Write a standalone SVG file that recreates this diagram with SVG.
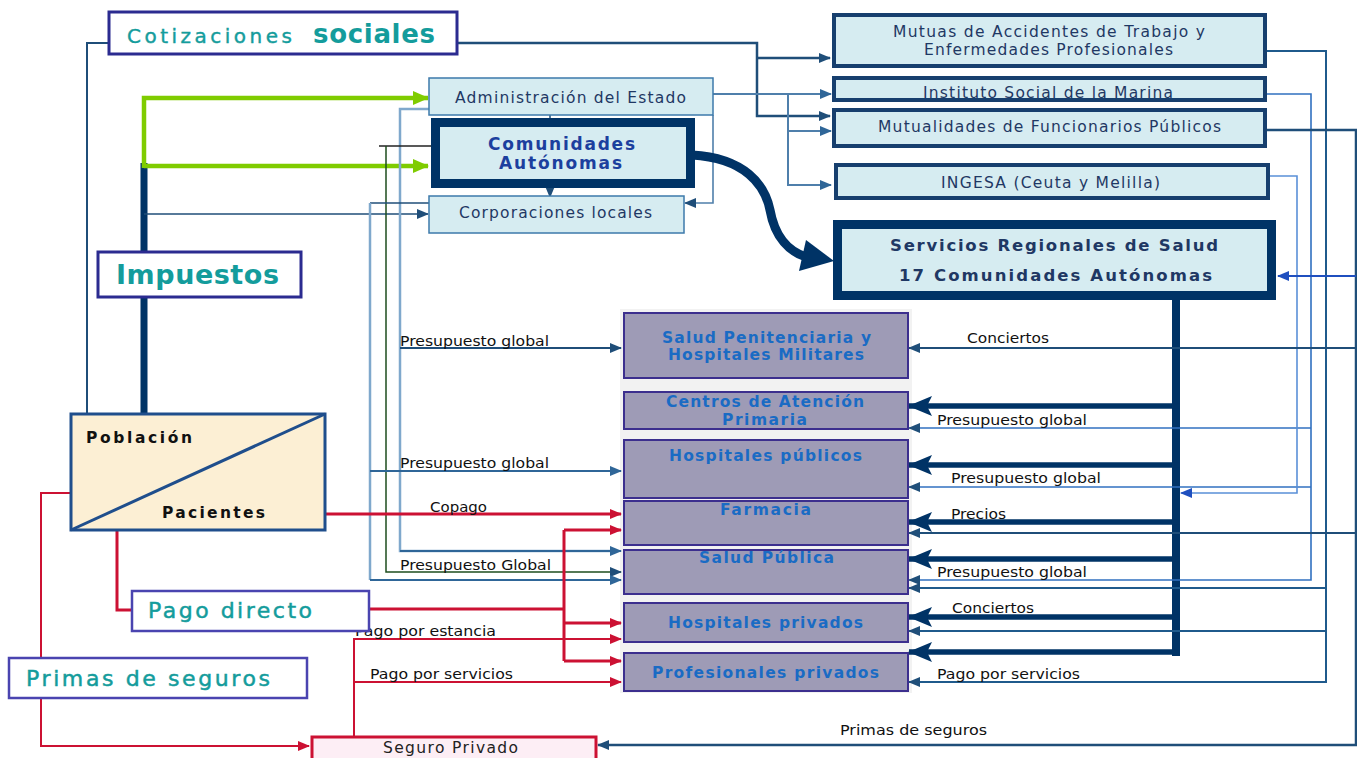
<svg xmlns="http://www.w3.org/2000/svg" width="1357" height="758" viewBox="0 0 1357 758">
<style>
text { font-family: "DejaVu Sans", Verdana, sans-serif; }
.lbl { font-size: 14px; fill: #111; }
.teal { fill: #149c9c; }
.nd { font-size: 15.5px; fill: #1f3864; }
.ndb { font-size: 16.5px; font-weight: bold; fill: #1f3864; }
.cy { fill: #d6ecf1; }
.box4 { fill: #d6ecf1; stroke: #173f6e; stroke-width: 4; }
.thin { fill: #d6ecf1; stroke: #3d7aab; stroke-width: 1.5; }
.pb { fill: #9e9bb6; stroke: #3c2f8e; stroke-width: 2; }
.pt { font-size: 15.5px; font-weight: bold; fill: #1a6bc4; }
.lab { fill: #fff; stroke: #2b2b90; stroke-width: 3; }
.lab2 { fill: #fff; stroke: #4a44b0; stroke-width: 2.5; }
.c { fill: none; }
.navy { stroke: #1f4e79; stroke-width: 2; }
.steel { stroke: #4f7fab; stroke-width: 2; }
.lsteel { stroke: #7fa8cc; stroke-width: 2.5; }
.red { stroke: #cc1133; stroke-width: 3; }
.redt { stroke: #cc1133; stroke-width: 2; }
.green { stroke: #7fcc00; stroke-width: 4.5; }
.thick { stroke: #003366; stroke-width: 5.5; }
.blue { stroke: #3070c0; stroke-width: 1.6; }
.lblue { stroke: #5a90d8; stroke-width: 1.6; }
</style>
<defs>
<marker id="aN" markerUnits="userSpaceOnUse" markerWidth="12" markerHeight="10" refX="11" refY="5" orient="auto"><path d="M0,0 L12,5 L0,10 z" fill="#1f4e79"/></marker>
<marker id="aS" markerUnits="userSpaceOnUse" markerWidth="12" markerHeight="10" refX="11" refY="5" orient="auto"><path d="M0,0 L12,5 L0,10 z" fill="#2f6698"/></marker>
<marker id="aB" markerUnits="userSpaceOnUse" markerWidth="12" markerHeight="10" refX="11" refY="5" orient="auto"><path d="M0,0 L12,5 L0,10 z" fill="#1f4fbf"/></marker>
<marker id="aR" markerUnits="userSpaceOnUse" markerWidth="12" markerHeight="10" refX="11" refY="5" orient="auto"><path d="M0,0 L12,5 L0,10 z" fill="#cc1133"/></marker>
<marker id="aG" markerUnits="userSpaceOnUse" markerWidth="16" markerHeight="14" refX="15" refY="7" orient="auto"><path d="M0,0 L16,7 L0,14 z" fill="#7fcc00"/></marker>
<marker id="aT" markerUnits="userSpaceOnUse" markerWidth="24" markerHeight="20" refX="23" refY="10" orient="auto"><path d="M0,0 L24,10 L0,20 L5,10 z" fill="#003366"/></marker>
</defs>

<rect x="620" y="309" width="292" height="384" fill="#f2f2f2"/>

<g id="connectors">
  <path class="c navy" d="M109,43 H87 V414"/>
  <path class="c navy" d="M457,43 H757 V116 H830" marker-end="url(#aN)" style="stroke-width:2.5"/>
  <path class="c navy" d="M757,58 H830" marker-end="url(#aN)" style="stroke-width:2.5"/>
  <path class="c" d="M144,163 V414" stroke="#003366" stroke-width="7"/>
  <path class="c green" d="M144,168 V98 H428" marker-end="url(#aG)"/>
  <path class="c green" d="M144,166 H428" marker-end="url(#aG)"/>
  <path class="c navy" d="M144,214 H428" marker-end="url(#aN)" style="stroke-width:1.6"/>
  <path class="c steel" d="M713,94 H831" marker-end="url(#aS)"/>
  <path class="c steel" d="M788,94 V185 H831" marker-end="url(#aS)"/>
  <path class="c steel" d="M788,131 H831" marker-end="url(#aS)"/>
  <path class="c steel" d="M713,115 V203 H685" marker-end="url(#aN)" style="stroke-width:1.6"/>
  <path class="c navy" d="M550,115 V133" marker-end="url(#aN)" style="stroke-width:1.5"/>
  <path class="c navy" d="M550,186 V197" marker-end="url(#aN)" style="stroke-width:1.5"/>
  <path class="c" d="M692,155 C745,158 765,185 770,210 C775,238 790,252 806,257" stroke="#003366" stroke-width="9"/>
  <polygon points="834,261 806,240 799,271" fill="#003366"/>
  <path class="c lsteel" d="M429,109 H400 V551 H614"/>
  <path class="c" d="M400,551 H621" stroke="#2f6698" stroke-width="2" marker-end="url(#aS)"/>
  <path class="c navy" d="M400,348 H621" marker-end="url(#aN)"/>
  <path class="c" d="M379,146 H436" stroke="#222" stroke-width="1.3"/>
  <path class="c" d="M386,146 V572 H621" stroke="#1e4d1e" stroke-width="1.5" marker-end="url(#aN)"/>
  <path class="c" d="M429,203 H370" stroke="#1f4e79" stroke-width="1.6"/>
  <path class="c lsteel" d="M370,203 V580"/>
  <path class="c" d="M370,580 H621" stroke="#2f6698" stroke-width="2" marker-end="url(#aS)"/>
  <path class="c" d="M370,471 H621" stroke="#2f6698" stroke-width="2" marker-end="url(#aS)"/>
  <path class="c red" d="M325,514 H621" marker-end="url(#aR)"/>
  <path class="c red" d="M117,530 V610 H132"/>
  <path class="c red" d="M369,609 H564"/>
  <path class="c red" d="M564,530 V661"/>
  <path class="c red" d="M564,530 H621" marker-end="url(#aR)"/>
  <path class="c red" d="M564,623 H621" marker-end="url(#aR)"/>
  <path class="c red" d="M564,661 H621" marker-end="url(#aR)"/>
  <path class="c redt" d="M71,493 H41 V658"/>
  <path class="c redt" d="M41,698 V746 H309" marker-end="url(#aR)"/>
  <path class="c redt" d="M354,737 V639 H621" marker-end="url(#aR)"/>
  <path class="c redt" d="M354,682 H621" marker-end="url(#aR)"/>
  <path class="c" d="M1176,298 V656" stroke="#003366" stroke-width="8"/>
  <path class="c thick" d="M1180,406 H909" marker-end="url(#aT)"/>
  <path class="c thick" d="M1180,465 H909" marker-end="url(#aT)"/>
  <path class="c thick" d="M1180,522 H909" marker-end="url(#aT)"/>
  <path class="c thick" d="M1180,559 H909" marker-end="url(#aT)"/>
  <path class="c thick" d="M1180,617 H909" marker-end="url(#aT)"/>
  <path class="c thick" d="M1180,652 H909" marker-end="url(#aT)"/>
  <path class="c" d="M1267,51 H1326 V682 H909" stroke="#1f5a8c" stroke-width="2" marker-end="url(#aN)"/>
  <path class="c" d="M1326,588 H909" stroke="#1f5a8c" stroke-width="2" marker-end="url(#aN)"/>
  <path class="c" d="M1326,631 H909" stroke="#1f5a8c" stroke-width="1.8" marker-end="url(#aN)"/>
  <path class="c blue" d="M1267,94 H1311 V580 H909" marker-end="url(#aN)"/>
  <path class="c blue" d="M1311,428 H909" marker-end="url(#aN)"/>
  <path class="c blue" d="M1311,487 H909" marker-end="url(#aN)"/>
  <path class="c lblue" d="M1270,176 H1297 V493 H1181" marker-end="url(#aB)"/>
  <path class="c" d="M1267,130 H1356 V745 H598" stroke="#1f4e79" stroke-width="2.5" marker-end="url(#aN)"/>
  <path class="c" d="M1356,276 H1278" stroke="#1f4fbf" stroke-width="1.8" marker-end="url(#aB)"/>
  <path class="c navy" d="M1356,348 H909" marker-end="url(#aN)"/>
  <path class="c navy" d="M1357,533 H909" marker-end="url(#aN)"/>
</g>

<g id="labels">
  <text class="lbl" x="400" y="346" textLength="149" lengthAdjust="spacingAndGlyphs">Presupuesto global</text>
  <text class="lbl" x="400" y="468" textLength="149" lengthAdjust="spacingAndGlyphs">Presupuesto global</text>
  <text class="lbl" x="430" y="512" textLength="57" lengthAdjust="spacingAndGlyphs">Copago</text>
  <text class="lbl" x="400" y="570" textLength="151" lengthAdjust="spacingAndGlyphs">Presupuesto Global</text>
  <text class="lbl" x="355" y="636" textLength="141" lengthAdjust="spacingAndGlyphs">Pago por estancia</text>
  <text class="lbl" x="370" y="679" textLength="143" lengthAdjust="spacingAndGlyphs">Pago por servicios</text>
  <text class="lbl" x="967" y="343" textLength="82" lengthAdjust="spacingAndGlyphs">Conciertos</text>
  <text class="lbl" x="937" y="425" textLength="150" lengthAdjust="spacingAndGlyphs">Presupuesto global</text>
  <text class="lbl" x="951" y="483" textLength="150" lengthAdjust="spacingAndGlyphs">Presupuesto global</text>
  <text class="lbl" x="951" y="519" textLength="55" lengthAdjust="spacingAndGlyphs">Precios</text>
  <text class="lbl" x="937" y="577" textLength="150" lengthAdjust="spacingAndGlyphs">Presupuesto global</text>
  <text class="lbl" x="952" y="613" textLength="82" lengthAdjust="spacingAndGlyphs">Conciertos</text>
  <text class="lbl" x="937" y="679" textLength="143" lengthAdjust="spacingAndGlyphs">Pago por servicios</text>
  <text class="lbl" x="840" y="735" textLength="147" lengthAdjust="spacingAndGlyphs">Primas de seguros</text>
</g>

<g id="cotizaciones">
  <rect class="lab" x="109" y="12" width="348" height="42"/>
  <text class="teal" y="43"><tspan x="127" font-size="20" textLength="165" lengthAdjust="spacing" stroke="#149c9c" stroke-width="0.4">Cotizaciones</tspan><tspan x="313" font-size="26" font-weight="bold" textLength="122" lengthAdjust="spacing">sociales</tspan></text>
</g>
<g id="impuestos">
  <rect class="lab" x="98" y="252" width="203" height="45"/>
  <text class="teal" x="116" y="284" font-size="27" font-weight="bold" textLength="163" lengthAdjust="spacing">Impuestos</text>
</g>
<g id="administracion">
  <rect class="thin" x="429" y="78" width="284" height="37"/>
  <text class="nd" x="455" y="103" textLength="231" lengthAdjust="spacing">Administración del Estado</text>
</g>
<g id="comunidades">
  <rect class="cy" x="435.5" y="122.5" width="255" height="61" stroke="#003366" stroke-width="9"/>
  <text x="488" y="150" font-size="17" font-weight="bold" fill="#1c3f9e" textLength="147" lengthAdjust="spacing">Comunidades</text>
  <text x="499" y="169" font-size="17" font-weight="bold" fill="#1c3f9e" textLength="123" lengthAdjust="spacing">Autónomas</text>
</g>
<g id="corporaciones">
  <rect class="thin" x="429" y="196" width="255" height="37"/>
  <text class="nd" x="459" y="218" textLength="193" lengthAdjust="spacing">Corporaciones locales</text>
</g>
<g id="mutuas">
  <rect class="box4" x="834" y="15" width="431" height="51"/>
  <text class="nd" x="893" y="37" textLength="312" lengthAdjust="spacing">Mutuas de Accidentes de Trabajo y</text>
  <text class="nd" x="924" y="55" textLength="249" lengthAdjust="spacing">Enfermedades Profesionales</text>
</g>
<g id="instituto">
  <rect class="box4" x="834" y="78" width="431" height="22"/>
  <text class="nd" x="923" y="98" textLength="250" lengthAdjust="spacing">Instituto Social de la Marina</text>
</g>
<g id="mutualidades">
  <rect class="box4" x="834" y="110" width="431" height="36"/>
  <text class="nd" x="878" y="132" textLength="343" lengthAdjust="spacing">Mutualidades de Funcionarios Públicos</text>
</g>
<g id="ingesa">
  <rect class="box4" x="836" y="165" width="432" height="33"/>
  <text class="nd" x="941" y="188" textLength="219" lengthAdjust="spacing">INGESA (Ceuta y Melilla)</text>
</g>
<g id="servicios">
  <rect class="cy" x="837.5" y="224.5" width="434" height="71" stroke="#003366" stroke-width="9"/>
  <text class="ndb" x="890" y="251" textLength="328" lengthAdjust="spacing">Servicios Regionales de Salud</text>
  <text class="ndb" x="899" y="281" textLength="313" lengthAdjust="spacing">17 Comunidades Autónomas</text>
</g>
<g id="penitenciaria">
  <rect class="pb" x="624" y="313" width="284" height="65"/>
  <text class="pt" x="662" y="343" textLength="209" lengthAdjust="spacing">Salud Penitenciaria y</text>
  <text class="pt" x="668" y="360" textLength="196" lengthAdjust="spacing">Hospitales Militares</text>
</g>
<g id="primaria">
  <rect class="pb" x="624" y="392" width="284" height="37"/>
  <text class="pt" x="666" y="407" textLength="198" lengthAdjust="spacing">Centros de Atención</text>
  <text class="pt" x="722" y="425" textLength="85" lengthAdjust="spacing">Primaria</text>
</g>
<g id="hosp-publicos">
  <rect class="pb" x="624" y="440" width="284" height="58"/>
  <text class="pt" x="669" y="461" textLength="193" lengthAdjust="spacing">Hospitales públicos</text>
</g>
<g id="farmacia">
  <rect class="pb" x="624" y="501" width="284" height="44"/>
  <text class="pt" x="720" y="515" textLength="91" lengthAdjust="spacing">Farmacia</text>
</g>
<g id="salud-publica">
  <rect class="pb" x="624" y="550" width="284" height="44"/>
  <text class="pt" x="699" y="563" textLength="135" lengthAdjust="spacing">Salud Pública</text>
</g>
<g id="hosp-privados">
  <rect class="pb" x="624" y="603" width="284" height="39"/>
  <text class="pt" x="668" y="628" textLength="195" lengthAdjust="spacing">Hospitales privados</text>
</g>
<g id="prof-privados">
  <rect class="pb" x="624" y="653" width="284" height="38"/>
  <text class="pt" x="652" y="678" textLength="227" lengthAdjust="spacing">Profesionales privados</text>
</g>
<g id="poblacion">
  <rect x="71" y="414" width="254" height="116" fill="#fcefd4" stroke="#1f4e8c" stroke-width="3"/>
  <line x1="71" y1="530" x2="325" y2="414" stroke="#1f4e8c" stroke-width="3"/>
  <text x="86" y="443" font-size="15.5" font-weight="bold" fill="#111" textLength="106" lengthAdjust="spacing">Población</text>
  <text x="162" y="518" font-size="15.5" font-weight="bold" fill="#111" textLength="103" lengthAdjust="spacing">Pacientes</text>
</g>
<g id="pago-directo">
  <rect class="lab2" x="132" y="591" width="237" height="40"/>
  <text class="teal" x="148" y="618" font-size="22" stroke="#149c9c" stroke-width="0.5" textLength="164" lengthAdjust="spacing">Pago directo</text>
</g>
<g id="primas">
  <rect class="lab2" x="9" y="658" width="298" height="40"/>
  <text class="teal" x="26" y="686" font-size="22" stroke="#149c9c" stroke-width="0.5" textLength="244" lengthAdjust="spacing">Primas de seguros</text>
</g>
<g id="seguro-privado">
  <rect x="312" y="737" width="284" height="30" fill="#fdeef5" stroke="#cc1133" stroke-width="3"/>
  <text x="383" y="753" font-size="15.5" fill="#222" textLength="135" lengthAdjust="spacing">Seguro Privado</text>
</g>
</svg>
